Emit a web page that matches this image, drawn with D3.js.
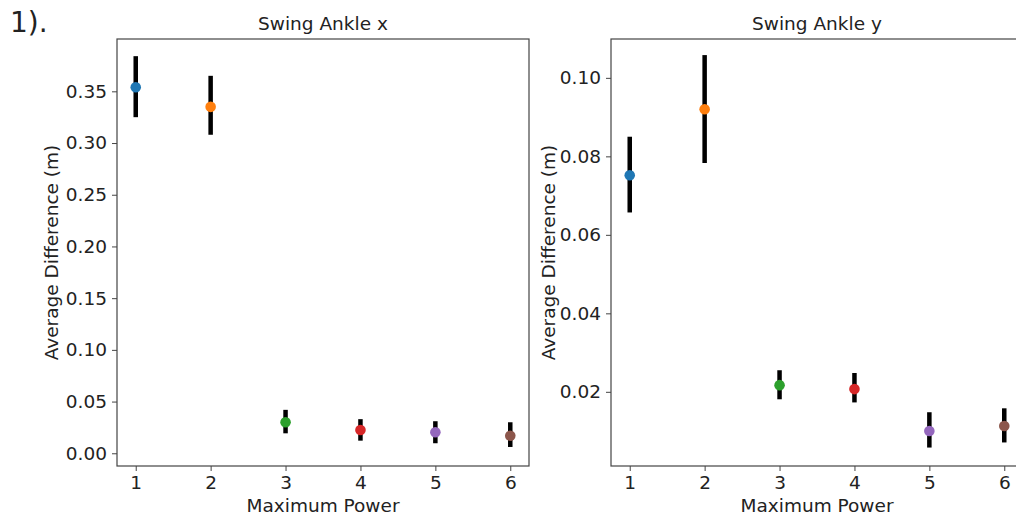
<!DOCTYPE html>
<html>
<head>
<meta charset="utf-8">
<script src="https://cdn.jsdelivr.net/npm/d3@7"></script>
<style>
  body { margin: 0; background: #fff; }
  svg text { font-family: "DejaVu Sans", sans-serif; fill: #222; }
</style>
</head>
<body>
<div id="chart"></div>
<script>
// data
const powers = [1, 2, 3, 4, 5, 6];
const colors = ["#1f77b4", "#ff7f0e", "#2ca02c", "#d62728", "#9467bd", "#8c564b"];

const ankleXMean = [0.354, 0.335, 0.030, 0.0225, 0.0203, 0.017];
const ankleXLow  = [0.325, 0.308, 0.0193, 0.0122, 0.0097, 0.0061];
const ankleXHigh = [0.384, 0.365, 0.042, 0.033, 0.031, 0.030];
const ankleXTicks = [0.00, 0.05, 0.10, 0.15, 0.20, 0.25, 0.30, 0.35];

const ankleYMean = [0.0752, 0.0920, 0.0217, 0.0207, 0.0100, 0.0113];
const ankleYLow  = [0.0657, 0.0783, 0.0181, 0.0173, 0.0058, 0.0071];
const ankleYHigh = [0.0850, 0.1058, 0.0255, 0.0248, 0.0148, 0.0158];
const ankleYTicks = [0.02, 0.04, 0.06, 0.08, 0.10];

const width = 1016, height = 519;

const svg = d3.select("#chart")
    .append("svg")
    .attr("width", width)
    .attr("height", height);

svg.append("text")
    .attr("x", 10)
    .attr("y", 32)
    .style("font-size", "28px")
    .text("1).");

function drawPanel(p) {
    const x = d3.scaleLinear()
        .domain([0.75, 6.25])
        .range([p.left, p.right]);
    const y = d3.scaleLinear()
        .domain(p.yDomain)
        .range([p.bottom, p.top]);

    const g = svg.append("g");

    // error bars
    g.selectAll("line.err")
        .data(powers)
        .join("line")
        .attr("class", "err")
        .attr("x1", d => x(d))
        .attr("x2", d => x(d))
        .attr("y1", (d, i) => y(p.low[i]))
        .attr("y2", (d, i) => y(p.high[i]))
        .attr("stroke", "#000")
        .attr("stroke-width", 4.5);

    g.selectAll("circle.pt")
        .data(powers)
        .join("circle")
        .attr("class", "pt")
        .attr("cx", d => x(d))
        .attr("cy", (d, i) => y(p.mean[i]))
        .attr("r", 5.3)
        .attr("fill", (d, i) => colors[i]);

    // axes
    const xAxis = d3.axisBottom(x).tickValues(powers).tickSize(5).tickPadding(5).tickFormat(d3.format("d"));
    const yAxis = d3.axisLeft(y).tickValues(p.ticks).tickSize(5).tickPadding(5).tickFormat(d3.format(".2f"));

    const gx = svg.append("g")
        .attr("transform", `translate(0,${p.bottom})`)
        .call(xAxis);
    const gy = svg.append("g")
        .attr("transform", `translate(${p.left},0)`)
        .call(yAxis);

    [gx, gy].forEach(a => {
        a.select(".domain").remove();
        a.selectAll(".tick line").attr("stroke", "#444");
        a.selectAll(".tick text")
            .style("font-size", "18.5px")
            .attr("font-family", null)
            .attr("fill", "#222");
    });

    // frame
    svg.append("rect")
        .attr("x", p.left)
        .attr("y", p.top)
        .attr("width", p.right - p.left)
        .attr("height", p.bottom - p.top)
        .attr("fill", "none")
        .attr("stroke", "#444")
        .attr("stroke-width", 1.2);

    svg.append("text")
        .attr("x", (p.left + p.right) / 2)
        .attr("y", 30)
        .attr("text-anchor", "middle")
        .style("font-size", "18.5px")
        .text(p.title);

    svg.append("text")
        .attr("x", (p.left + p.right) / 2)
        .attr("y", 512)
        .attr("text-anchor", "middle")
        .style("font-size", "18.5px")
        .text("Maximum Power");

    svg.append("text")
        .attr("transform", `translate(${p.labelX},${(p.top + p.bottom) / 2}) rotate(-90)`)
        .attr("text-anchor", "middle")
        .style("font-size", "18.5px")
        .text("Average Difference (m)");
}

drawPanel({
    title: "Swing Ankle x",
    left: 117, right: 529, top: 39, bottom: 466,
    yDomain: [-0.0123, 0.4006],
    ticks: ankleXTicks,
    mean: ankleXMean, low: ankleXLow, high: ankleXHigh,
    labelX: 58
});

drawPanel({
    title: "Swing Ankle y",
    left: 611, right: 1023, top: 39, bottom: 466,
    yDomain: [0.0011, 0.1099],
    ticks: ankleYTicks,
    mean: ankleYMean, low: ankleYLow, high: ankleYHigh,
    labelX: 555
});
</script>
</body>
</html>
